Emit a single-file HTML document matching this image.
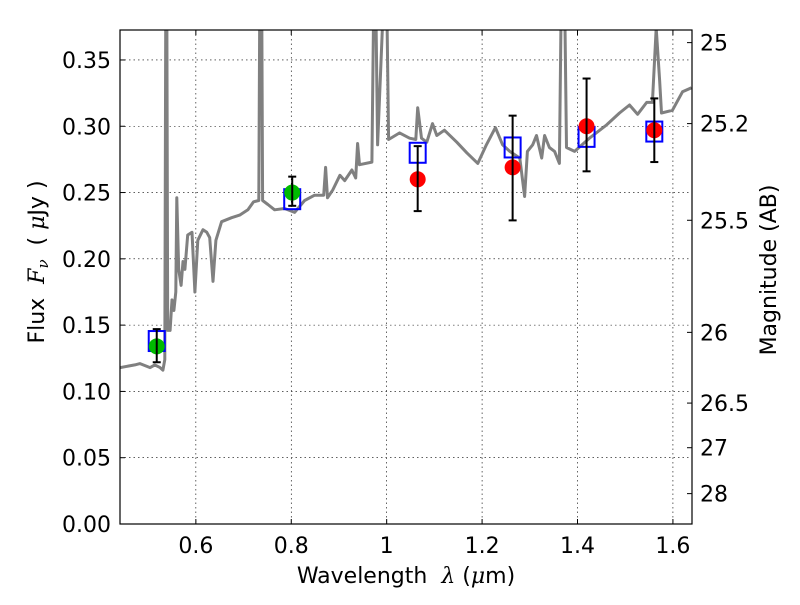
<!DOCTYPE html>
<html><head><meta charset="utf-8"><style>
body{margin:0;background:#fff}
svg text{font-family:"DejaVu Sans","Liberation Sans",sans-serif;fill:#000;white-space:pre}
.m{font-family:"DejaVu Serif","Liberation Serif",serif;font-style:italic}
</style></head><body>
<svg id="chart" width="800" height="600" xmlns="http://www.w3.org/2000/svg"></svg>
<script>
const specWl=[0.441,0.472,0.483,0.504,0.514,0.525,0.531,0.535,0.537,0.539,0.541,0.546,0.550,0.554,0.558,0.560,0.564,0.569,0.573,0.577,0.583,0.592,0.598,0.604,0.615,0.623,0.629,0.636,0.642,0.654,0.675,0.692,0.709,0.721,0.732,0.734,0.738,0.740,0.751,0.765,0.786,0.807,0.828,0.849,0.868,0.872,0.876,0.887,0.902,0.912,0.927,0.935,0.939,0.943,0.969,0.973,0.977,0.981,0.994,1.0,1.004,1.027,1.048,1.061,1.065,1.073,1.084,1.096,1.105,1.121,1.147,1.168,1.191,1.209,1.228,1.243,1.258,1.279,1.289,1.295,1.306,1.314,1.325,1.331,1.341,1.352,1.362,1.366,1.373,1.377,1.394,1.425,1.461,1.488,1.509,1.526,1.545,1.557,1.565,1.572,1.576,1.599,1.620,1.639];
const specFlux=[0.118,0.120,0.121,0.118,0.120,0.118,0.116,0.124,0.40,0.40,0.146,0.146,0.169,0.161,0.175,0.246,0.192,0.180,0.198,0.192,0.218,0.220,0.175,0.214,0.222,0.220,0.216,0.183,0.214,0.228,0.231,0.233,0.237,0.243,0.244,0.40,0.40,0.244,0.241,0.237,0.238,0.235,0.244,0.248,0.248,0.269,0.246,0.252,0.263,0.259,0.267,0.261,0.287,0.271,0.273,0.40,0.40,0.286,0.40,0.40,0.290,0.295,0.291,0.290,0.314,0.291,0.288,0.302,0.293,0.297,0.288,0.280,0.272,0.286,0.299,0.286,0.281,0.276,0.247,0.281,0.286,0.293,0.276,0.293,0.284,0.281,0.272,0.40,0.40,0.284,0.281,0.291,0.301,0.310,0.316,0.309,0.318,0.318,0.374,0.335,0.310,0.312,0.326,0.329];
const photWl=[0.518,0.802,1.065,1.264,1.419,1.561];
const photFlux=[0.134,0.250,0.260,0.269,0.300,0.297];
const photErrHi=[0.147,0.262,0.285,0.308,0.336,0.321];
const photErrLo=[0.122,0.240,0.236,0.229,0.266,0.273];
const modelFlux=[0.138,0.245,0.280,0.284,0.292,0.296];
const photColors=['#00bb00','#00bb00','red','red','red','red'];
const xTicks=[0.6,0.8,1.0,1.2,1.4,1.6];
const xTickLabels=['0.6','0.8','1','1.2','1.4','1.6'];
const yTicks=[0,0.05,0.10,0.15,0.20,0.25,0.30,0.35];
const yTickLabels=['0.00','0.05','0.10','0.15','0.20','0.25','0.30','0.35'];
const magTicks=[25,25.2,25.5,26,26.5,27,28];
const magTickLabels=['25','25.2','25.5','26','26.5','27','28'];

const L=120,R=692,T=30,B=524,X0=0.441,X1=1.64,Y0=0,Y1=0.3726;
const sx=v=>L+(v-X0)/(X1-X0)*(R-L);
const sy=v=>B-(v-Y0)/(Y1-Y0)*(B-T);
const svg=document.getElementById('chart');
const NS='http://www.w3.org/2000/svg';
function mk(tag,attrs,parent){const e=document.createElementNS(NS,tag);for(const k in attrs)e.setAttribute(k,attrs[k]);(parent||svg).appendChild(e);return e;}
const defs=mk('defs',{});const cp=mk('clipPath',{id:'clip'},defs);mk('rect',{x:L,y:T,width:R-L,height:B-T},cp);

xTicks.forEach((v,i)=>{
  const g=mk('line',{x1:sx(v),x2:sx(v),y1:T,y2:B,stroke:'#000','stroke-width':0.6,'stroke-dasharray':'1.5,3'});
  
  
  mk('line',{x1:sx(v),x2:sx(v),y1:B,y2:B-5,stroke:'#000'});
  mk('line',{x1:sx(v),x2:sx(v),y1:T,y2:T+5,stroke:'#000'});
  const t=mk('text',{x:sx(v),y:B+29,'text-anchor':'middle','font-size':22});t.textContent=xTickLabels[i];
  
  
});
yTicks.forEach((v,i)=>{
  const g=mk('line',{x1:L,x2:R,y1:sy(v),y2:sy(v),stroke:'#000','stroke-width':0.6,'stroke-dasharray':'1.5,3'});
  
  
  mk('line',{x1:L,x2:L+5,y1:sy(v),y2:sy(v),stroke:'#000'});
  const t=mk('text',{x:L-9,y:sy(v)+8,'text-anchor':'end','font-size':22});t.textContent=yTickLabels[i];
  
  
});
magTicks.forEach((m,i)=>{
  const f=Math.pow(10,(23.9-m)/2.5);
  mk('line',{x1:R,x2:R-5,y1:sy(f),y2:sy(f),stroke:'#000'});
  const t=mk('text',{x:R+8,y:sy(f)+8,'font-size':22});t.textContent=magTickLabels[i];
  
  
});

const pts=specWl.map((w,i)=>sx(w).toFixed(1)+','+sy(specFlux[i]).toFixed(1)).join(' ');
const sp=mk('polyline',{points:pts,fill:'none',stroke:'#808080','stroke-width':3,'clip-path':'url(#clip)','stroke-linejoin':'round'});



photWl.forEach((w,i)=>{
  const x=sx(w);
  const bx=mk('rect',{x:x-8,y:sy(modelFlux[i])-10,width:16,height:20,fill:'none',stroke:'#0000ff','stroke-width':2});
  
  
  const c=mk('circle',{cx:x,cy:sy(photFlux[i]),r:8,fill:photColors[i]});
  
  
  const eb=mk('g',{stroke:'#000','stroke-width':2});
  
  
  mk('line',{x1:x,x2:x,y1:sy(photErrHi[i]),y2:sy(photErrLo[i])},eb);
  mk('line',{x1:x-4,x2:x+4,y1:sy(photErrHi[i]),y2:sy(photErrHi[i])},eb);
  mk('line',{x1:x-4,x2:x+4,y1:sy(photErrLo[i]),y2:sy(photErrLo[i])},eb);
});

const fr=mk('rect',{x:L,y:T,width:R-L,height:B-T,fill:'none',stroke:'#000','stroke-width':1.2});


const xl=mk('text',{x:406,y:583,'text-anchor':'middle','font-size':22});
xl.innerHTML='Wavelength  <tspan class="m">λ</tspan> (<tspan class="m">μ</tspan>m)';


const yl=mk('text',{x:0,y:0,'text-anchor':'middle','font-size':22,transform:'translate(44,262) rotate(-90)'});
yl.innerHTML='Flux  <tspan class="m">F</tspan><tspan class="m" font-size="15" dy="4">ν</tspan><tspan dy="-4">  ( </tspan><tspan class="m">μ</tspan>Jy )';


const rl=mk('text',{x:0,y:0,'text-anchor':'middle','font-size':22,transform:'translate(776,270) rotate(-90)'});rl.textContent='Magnitude (AB)';


</script>
</body></html>
